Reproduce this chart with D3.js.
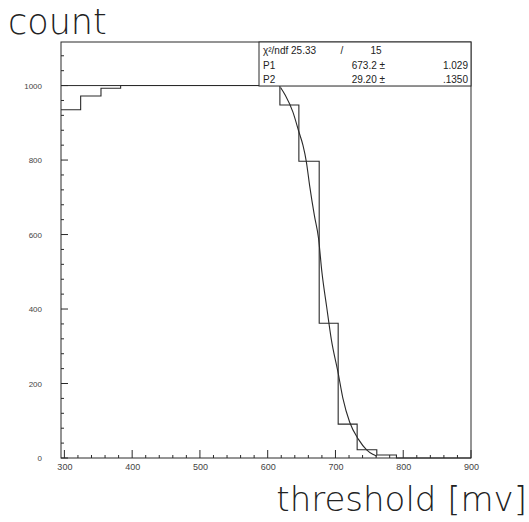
<!DOCTYPE html>
<html>
<head>
<meta charset="utf-8">
<script src="https://cdn.jsdelivr.net/npm/d3@7"></script>
<style>
  html, body { margin: 0; padding: 0; background: #fff; }
  svg { display: block; }
</style>
</head>
<body>
<svg id="chart" width="529" height="522"></svg>
<script>
// ---- data ----
const binEdges = [295, 324, 354, 383, 413, 442, 472, 501, 531, 560, 589, 618, 646, 676, 704, 732, 761, 790, 819, 848, 877, 900];
const binCounts = [935, 972, 993, 1000, 1000, 1000, 1000, 1000, 1000, 1000, 1000, 948, 797, 362, 91, 22, 8, 0, 0, 0, 0];
const fitX = [619, 626, 637, 646, 652, 657, 662, 669, 675, 680, 687, 694, 704, 711, 721, 734, 746, 755, 761];
const fitY = [995, 974, 930, 876, 840, 796, 730, 650, 590, 499, 406, 317, 228, 160, 96, 50, 22, 10, 5];
const referenceLevel = 1000;
const xTicks = [300, 400, 500, 600, 700, 800, 900];
const yTicks = [0, 200, 400, 600, 800, 1000];
const statRows = [
  ["\u03c7\u00b2/ndf 25.33", "/", "15"],
  ["P1", "673.2 \u00b1", "1.029"],
  ["P2", "29.20 \u00b1", ".1350"]
];
const xTitle = "threshold [mv]";
const yTitle = "count";

// ---- layout ----
const frame = { left: 61, right: 471, top: 42, bottom: 458 };
const svg = d3.select("#chart");
const ink = "#2a2a2a";

const x = d3.scaleLinear().domain([295, 900]).range([frame.left, frame.right]);
const y = d3.scaleLinear().domain([0, 1117]).range([frame.bottom, frame.top]);

// frame
svg.append("rect")
  .attr("x", frame.left).attr("y", frame.top)
  .attr("width", frame.right - frame.left).attr("height", frame.bottom - frame.top)
  .attr("fill", "none").attr("stroke", ink).attr("stroke-width", 1);

// x axis ticks (inside, pointing up)
const xMinor = d3.range(300, 901, 20);
svg.append("g").selectAll("line").data(xMinor).join("line")
  .attr("x1", d => x(d)).attr("x2", d => x(d))
  .attr("y1", frame.bottom).attr("y2", d => frame.bottom - (d % 100 === 0 ? 8 : 3))
  .attr("stroke", ink).attr("stroke-width", 1);
const xAxis = d3.axisBottom(x).tickValues(xTicks).tickFormat(d3.format("d")).tickSize(0).tickPadding(6);
svg.append("g").attr("transform", `translate(0,${frame.bottom})`).call(xAxis)
  .call(g => g.select(".domain").remove())
  .call(g => g.selectAll("text").attr("font-family", "Liberation Sans, Arial, sans-serif")
    .attr("font-size", 9).attr("fill", "#444"));

// y axis ticks (inside, pointing right)
const yMinor = d3.range(0, 1117, 40);
svg.append("g").selectAll("line").data(yMinor).join("line")
  .attr("y1", d => y(d)).attr("y2", d => y(d))
  .attr("x1", frame.left).attr("x2", d => frame.left + (d % 200 === 0 ? 7 : 3))
  .attr("stroke", ink).attr("stroke-width", 1);
const yAxis = d3.axisLeft(y).tickValues(yTicks).tickFormat(d3.format("d")).tickSize(0).tickPadding(19);
svg.append("g").attr("transform", `translate(${frame.left},0)`).call(yAxis)
  .call(g => g.select(".domain").remove())
  .call(g => g.selectAll("text").attr("font-family", "Liberation Sans, Arial, sans-serif")
    .attr("font-size", 8).attr("fill", "#444"));

// reference line at 1000
svg.append("line")
  .attr("x1", frame.left).attr("x2", frame.right)
  .attr("y1", y(referenceLevel)).attr("y2", y(referenceLevel))
  .attr("stroke", ink).attr("stroke-width", 1);

// histogram outline
const bins = binCounts.map((c, i) => ({ x0: binEdges[i], x1: binEdges[i + 1], c }));
const pts = [];
bins.forEach(b => { pts.push([b.x0, b.c]); pts.push([b.x1, b.c]); });
svg.append("path")
  .attr("d", d3.line().x(d => x(d[0])).y(d => y(d[1]))(pts))
  .attr("fill", "none").attr("stroke", ink).attr("stroke-width", 1.1);

// fit curve
svg.append("path")
  .attr("d", d3.line().curve(d3.curveMonotoneX).x(d => x(d[0])).y(d => y(d[1]))(fitX.map((v, i) => [v, fitY[i]])))
  .attr("fill", "none").attr("stroke", ink).attr("stroke-width", 1.1);

// stats box
const statBox = { left: 259, top: frame.top, right: frame.right, bottom: 86 };
svg.append("rect")
  .attr("x", statBox.left).attr("y", statBox.top)
  .attr("width", statBox.right - statBox.left).attr("height", statBox.bottom - statBox.top)
  .attr("fill", "#fff").attr("stroke", ink).attr("stroke-width", 1);
const colX = [[263, "start"], [385, "end"], [468, "end"]];
const stat = svg.append("g").attr("font-family", "Liberation Sans, Arial, sans-serif")
  .attr("font-size", 10).attr("fill", "#222");
statRows.forEach((row, r) => {
  row.forEach((t, c) => {
    let cx = colX[c][0], anchor = colX[c][1];
    if (r === 0 && c === 1) { cx = 342; anchor = "middle"; }
    if (r === 0 && c === 2) { cx = 376; anchor = "middle"; }
    stat.append("text").attr("x", cx).attr("y", 54 + r * 14.5)
      .attr("text-anchor", anchor).text(t);
  });
});

// titles
svg.append("text").attr("x", 8).attr("y", 34)
  .attr("font-family", "DejaVu Sans, sans-serif").attr("font-weight", 200)
  .attr("font-size", 35).attr("fill", "#222").text(yTitle);
svg.append("text").attr("x", 527).attr("y", 511).attr("text-anchor", "end")
  .attr("font-family", "DejaVu Sans, sans-serif").attr("font-weight", 200)
  .attr("font-size", 34).attr("fill", "#222").text(xTitle);
</script>
</body>
</html>
